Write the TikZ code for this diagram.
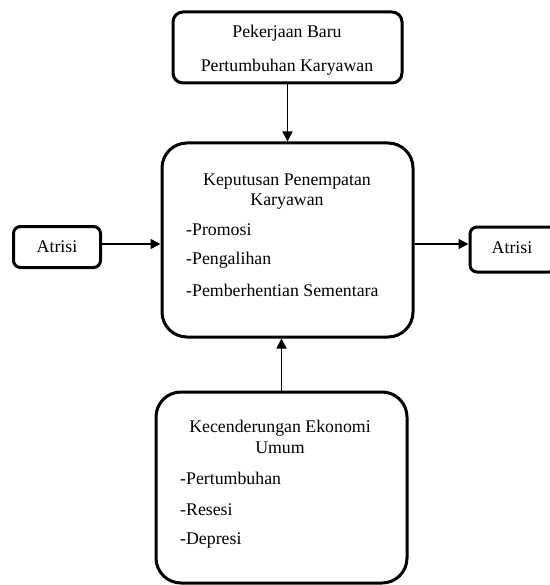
\documentclass[tikz,border=0pt]{standalone}
\usepackage{fontspec}
\setmainfont{Liberation Serif}
\usetikzlibrary{arrows.meta}
\begin{document}
\begin{tikzpicture}[x=1pt,y=-1pt,
  box/.style={draw, line width=3pt, rounded corners=#1, inner sep=0pt},
  box/.default=10pt,
  lbl/.style={font=\fontsize{17.8}{20}\selectfont, inner sep=0pt},
  arr/.style={line width=1.5pt, -{Triangle[length=10pt,width=10pt]}}]
\useasboundingbox (0,0) rectangle (549,585);
% boxes
\node[box=10pt, minimum width=229pt, minimum height=71pt] (top) at (287.5,47.5) {};
\node[box=25pt, minimum width=251pt, minimum height=194pt] (mid) at (287.5,240) {};
\node[box=25pt, minimum width=251pt, minimum height=191pt] (bot) at (281.5,487.5) {};
\node[box=7pt, minimum width=87pt, minimum height=41pt, lbl] (atL) at (57,247) {Atrisi};
\node[box=7pt, minimum width=86pt, minimum height=45pt, lbl] (atR) at (513,249.5) {};
\node[lbl] (atRt) at (512,248) {Atrisi};
% texts
\node[lbl] (t1) at (287,33) {Pekerjaan Baru};
\node[lbl] (t2) at (287,67) {Pertumbuhan Karyawan};
\node[lbl] (m1) at (287,182) {Keputusan Penempatan};
\node[lbl] (m2) at (287,202) {Karyawan};
\node[lbl, anchor=west] (m3) at (186,230) {-Promosi};
\node[lbl, anchor=west] (m4) at (186,260) {-Pengalihan};
\node[lbl, anchor=west] (m5) at (186,290) {-Pemberhentian Sementara};
\node[lbl] (b1) at (280,428) {Kecenderungan Ekonomi};
\node[lbl] (b2) at (280,448) {Umum};
\node[lbl, anchor=west] (b3) at (180,478) {-Pertumbuhan};
\node[lbl, anchor=west] (b4) at (180,510) {-Resesi};
\node[lbl, anchor=west] (b5) at (180,540) {-Depresi};
% connectors
\draw[arr] (top.south) -- (mid.north);
\draw[arr] (bot.north) -- (bot.north |- mid.south);
\coordinate (ay) at (0,244);
\draw[arr] (atL.east |- ay) -- (mid.west |- ay);
\draw[arr] (mid.east |- ay) -- (atR.west |- ay);
\end{tikzpicture}
\end{document}
